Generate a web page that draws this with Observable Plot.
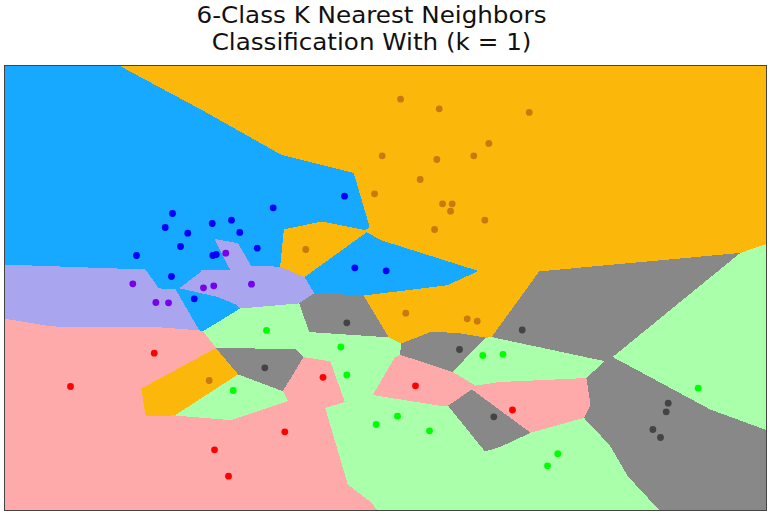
<!DOCTYPE html>
<html>
<head>
<meta charset="utf-8">
<script src="https://cdn.jsdelivr.net/npm/d3@7"></script>
<script src="https://cdn.jsdelivr.net/npm/@observablehq/plot@0.6"></script>
<style>
  html, body { margin: 0; padding: 0; background: #fff; }
  #title { width: 770px; height: 63px; text-align: center; font-family: "DejaVu Sans", sans-serif;
           font-size: 23px; line-height: 27px; color: #111; padding-top: 2px; padding-right: 26px; box-sizing: border-box; }
  #title span { display: inline-block; transform: scaleX(1.07); transform-origin: center; }
  svg { display: block; }
</style>
</head>
<body>
<div id="title"><span>6-Class K Nearest Neighbors<br>Classification With (k = 1)</span></div>
<div id="chart"></div>
<script>
// Class labels
const classes = ["A", "B", "C", "D", "E", "F"];
// Region (light) colours and point colours per class
const regionColors = ["#FBB80A", "#17A8FF", "#A9A5EF", "#888888", "#AAFFAA", "#FFAAAA"];
const pointColors  = ["#C8790F", "#0000FF", "#7700EE", "#444444", "#00FF00", "#FF0000"];

// Training points (feature 1, feature 2) per class
const classAx = [4.158, 4.564, 5.509, 5.085, 3.965, 4.539, 4.927, 4.364, 3.885, 4.599, 4.700, 4.683, 5.043, 4.515, 3.163, 4.213, 4.858, 4.963, 2.149];
const classAy = [8.319, 8.124, 8.050, 7.423, 7.174, 7.099, 7.174, 6.694, 6.405, 6.203, 6.203, 6.053, 5.871, 5.683, 5.279, 3.990, 3.877, 3.829, 2.629];
const classBx = [1.764, 2.383, 1.687, 1.924, 2.181, 2.470, 2.821, 1.848, 1.386, 2.187, 2.223, 2.653, 1.753, 1.992, 3.570, 3.678, 4.007];
const classBy = [6.007, 5.871, 5.724, 5.608, 5.805, 5.623, 6.122, 5.339, 5.157, 5.157, 5.178, 5.305, 4.733, 4.282, 6.357, 4.909, 4.848];
const classCx = [2.323, 1.347, 2.089, 2.197, 2.593, 1.589, 1.722];
const classCy = [5.204, 4.585, 4.504, 4.545, 4.577, 4.207, 4.201];
const classDx = [3.594, 5.435, 4.777, 2.733, 5.137, 6.968, 6.947, 6.807, 6.887];
const classDy = [3.796, 3.651, 3.256, 2.886, 1.895, 2.170, 1.996, 1.638, 1.476];
const classEx = [2.751, 3.531, 3.594, 2.401, 5.021, 5.233, 4.126, 3.902, 4.462, 5.809, 5.701, 7.283];
const classEy = [3.641, 3.307, 2.740, 2.427, 3.135, 3.159, 1.907, 1.739, 1.612, 1.149, 0.904, 2.474];
const classFx = [1.572, 0.693, 3.344, 2.943, 2.205, 2.352, 4.315, 5.333];
const classFy = [3.181, 2.508, 2.694, 1.592, 1.228, 0.694, 2.522, 2.033];

const xDomain = [0, 8];
const yDomain = [0, 9];

const xs = [classAx, classBx, classCx, classDx, classEx, classFx];
const ys = [classAy, classBy, classCy, classDy, classEy, classFy];
const points = [];
xs.forEach((arr, ci) => arr.forEach((x, i) => points.push({x, y: ys[ci][i], c: ci})));

function nearestClass(x, y) {
  let best = Infinity, bc = 0;
  for (const p of points) {
    const dx = p.x - x, dy = p.y - y;
    const d = dx * dx + dy * dy;
    if (d < best) { best = d; bc = p.c; }
  }
  return bc;
}

const chart = Plot.plot({
  width: 770,
  height: 451,
  marginTop: 2,
  marginBottom: 4,
  marginLeft: 4,
  marginRight: 4,
  x: {domain: xDomain, axis: null},
  y: {domain: yDomain, axis: null},
  color: {type: "identity"},
  marks: [
    Plot.raster({
      x1: xDomain[0], x2: xDomain[1], y1: yDomain[0], y2: yDomain[1],
      fill: (x, y) => regionColors[nearestClass(x, y)],
      imageRendering: "pixelated"
    }),
    Plot.dot(points, {x: "x", y: "y", r: 3.4, fill: d => pointColors[d.c], stroke: "none"}),
    Plot.frame({stroke: "#444", strokeWidth: 1})
  ]
});
document.getElementById("chart").appendChild(chart);
</script>
</body>
</html>
